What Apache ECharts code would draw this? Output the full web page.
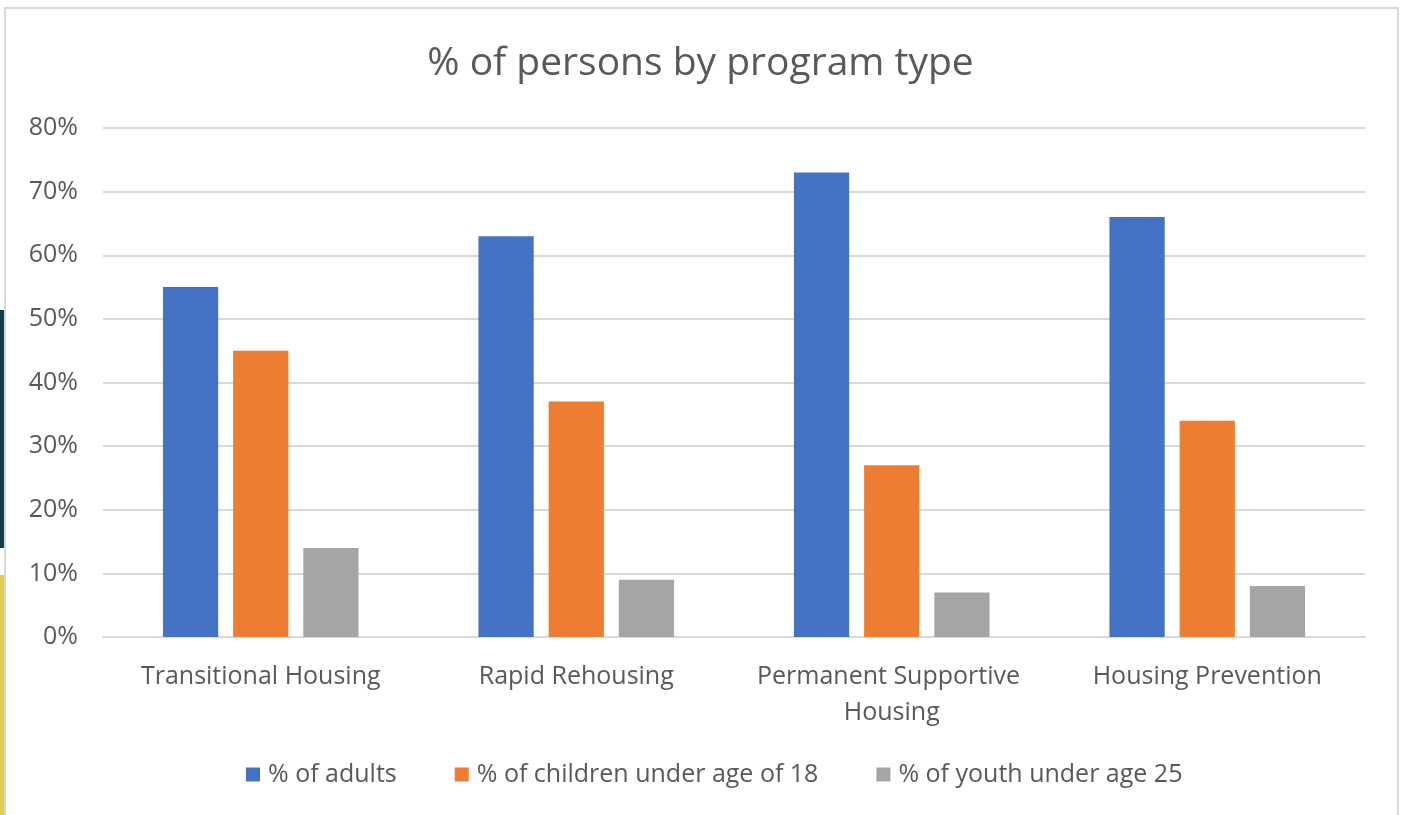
<!DOCTYPE html>
<html>
<head>
<meta charset="utf-8">
<script src="https://cdn.jsdelivr.net/npm/echarts@6/dist/echarts.min.js"></script>
<style>
html,body{margin:0;padding:0;background:#fff;width:1401px;height:815px;overflow:hidden;}
#frame{position:absolute;left:4px;top:7px;width:1391px;height:820px;border:2px solid #d9d9d9;border-bottom:none;background:#fff;}
#teal{position:absolute;left:0;top:310px;width:4px;height:238px;background:#0f3d4c;}
#yellow{position:absolute;left:0;top:575px;width:4px;height:240px;background:#e2cd4c;}
#chart{position:absolute;left:0;top:0;width:1401px;height:815px;}
</style>
</head>
<body>
<div id="teal"></div>
<div id="yellow"></div>
<div id="frame"></div>
<div id="chart"></div>
<script>
const categories = ["Transitional Housing", "Rapid Rehousing", "Permanent Supportive Housing", "Housing Prevention"];
const adults = [55, 63, 73, 66];
const children = [45, 37, 27, 34];
const youth = [14, 9, 7, 8];
const seriesNames = ["% of adults", "% of children under age of 18", "% of youth under age 25"];
const yTicks = [0, 10, 20, 30, 40, 50, 60, 70, 80];

const font = "'Open Sans', 'Noto Sans', sans-serif";
const textColor = "#595959";
const chart = echarts.init(document.getElementById('chart'), null, {renderer: 'canvas'});
chart.setOption({
  backgroundColor: 'transparent',
  animation: false,
  title: {
    text: "% of persons by program type",
    left: 'center',
    top: 39,
    textStyle: {fontFamily: font, fontSize: 39, fontWeight: 'normal', color: textColor}
  },
  legend: {
    top: 757,
    left: 241,
    itemWidth: 14,
    itemHeight: 14,
    itemGap: 58,
    icon: 'rect',
    data: seriesNames,
    textStyle: {fontFamily: font, fontSize: 25, color: textColor, padding: [0, 0, 0, 3]}
  },
  grid: {left: 103, right: 36, top: 128, bottom: 178, containLabel: false},
  xAxis: {
    type: 'category',
    data: categories,
    axisLine: {lineStyle: {color: '#d9d9d9', width: 2}},
    axisTick: {show: false},
    axisLabel: {
      fontFamily: font, fontSize: 25, color: textColor, margin: 22,
      width: 300, overflow: 'break', lineHeight: 36, interval: 0
    }
  },
  yAxis: {
    type: 'value',
    min: yTicks[0],
    max: yTicks[yTicks.length - 1],
    interval: 10,
    axisLine: {show: false},
    axisTick: {show: false},
    splitLine: {lineStyle: {color: '#d9d9d9', width: 2}},
    axisLabel: {fontFamily: font, fontSize: 25, color: textColor, margin: 25, formatter: '{value}%'}
  },
  series: [
    {name: seriesNames[0], type: 'bar', data: adults, itemStyle: {color: '#4472C4'}, barGap: '27%', barCategoryGap: '38%'},
    {name: seriesNames[1], type: 'bar', data: children, itemStyle: {color: '#ED7D31'}},
    {name: seriesNames[2], type: 'bar', data: youth, itemStyle: {color: '#A5A5A5'}}
  ]
});
</script>
</body>
</html>
